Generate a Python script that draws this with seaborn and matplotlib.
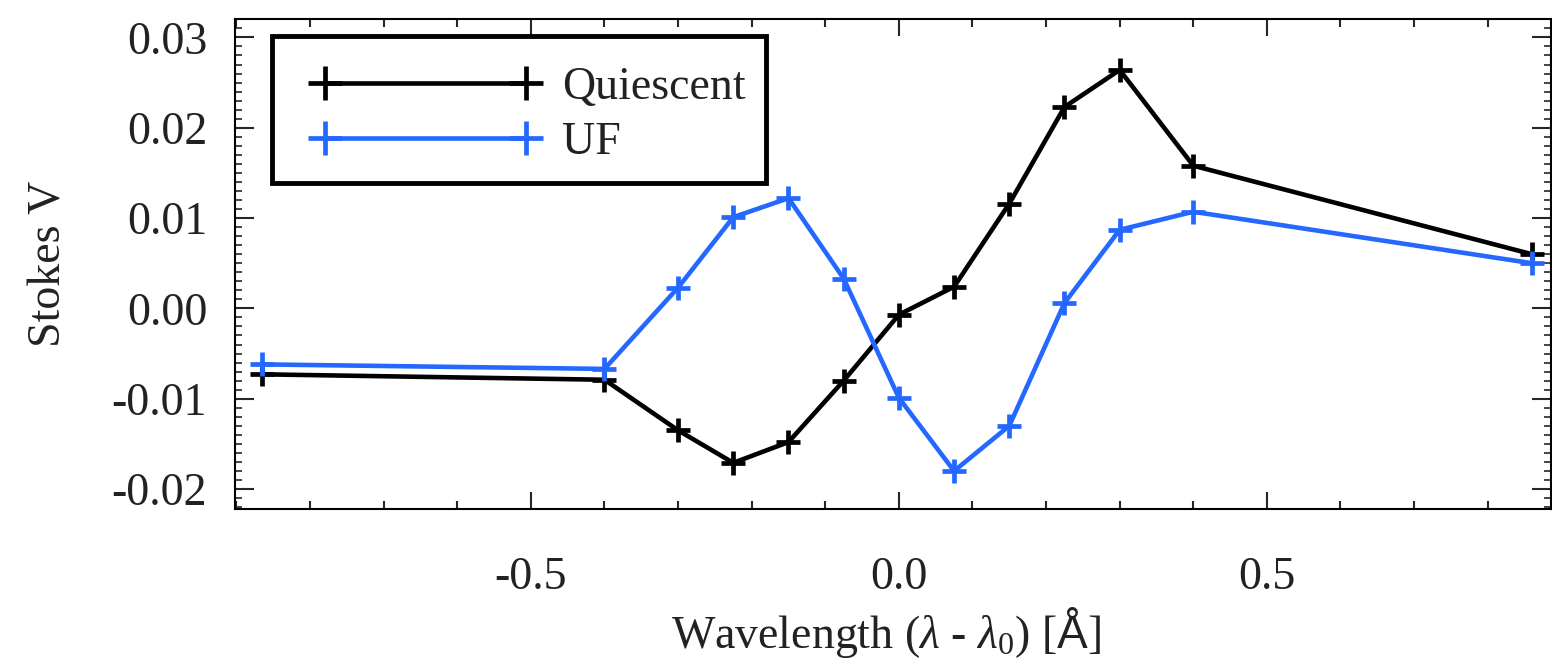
import numpy as np
import pandas as pd
import matplotlib
matplotlib.use("Agg")
import matplotlib.pyplot as plt
import seaborn as sns
from matplotlib.ticker import MultipleLocator
from matplotlib.patches import Rectangle

# ---- data ----
wavelength = [-0.865, -0.4, -0.3, -0.225, -0.15, -0.075, 0.0, 0.075, 0.15, 0.225, 0.3, 0.4, 0.86]
quiescent = [-0.0073, -0.0079, -0.0135, -0.0171, -0.0148, -0.0080, -0.0007, 0.0024,
             0.0116, 0.0223, 0.0264, 0.0158, 0.0060]
uf = [-0.0062, -0.0067, 0.0023, 0.0101, 0.0122, 0.0033, -0.0099, -0.0180,
      -0.0130, 0.0006, 0.0087, 0.0107, 0.0050]
series_names = ["Quiescent", "UF"]
series_colors = ["#000000", "#2468FF"]
x_ticks = [-0.5, 0.0, 0.5]
x_ticklabels = ["-0.5", "0.0", "0.5"]
y_ticks = [-0.02, -0.01, 0.0, 0.01, 0.02, 0.03]
y_ticklabels = ["-0.02", "-0.01", "0.00", "0.01", "0.02", "0.03"]

sns.set_style("ticks")
plt.rcParams["font.family"] = ["Liberation Serif", "DejaVu Serif"]
plt.rcParams["mathtext.fontset"] = "custom"
plt.rcParams["mathtext.rm"] = "Liberation Serif"
plt.rcParams["mathtext.it"] = "Liberation Serif:italic"
plt.rcParams["mathtext.sf"] = "Liberation Sans"

FS = 33
W, H = 1552, 672
fig = plt.figure(figsize=(W / 100, H / 100), dpi=100)
L, R, T, B = 235, 1551, 19, 509
ax = fig.add_axes([L / W, 1 - B / H, (R - L) / W, (B - T) / H])

df = pd.DataFrame({
    "x": wavelength * 2,
    "v": quiescent + uf,
    "series": [series_names[0]] * len(wavelength) + [series_names[1]] * len(wavelength),
})

for name, col in zip(series_names, series_colors):
    sub = df[df["series"] == name]
    sns.lineplot(data=sub, x="x", y="v", ax=ax, color=col, label=name, sort=False,
                 marker="+", markersize=17, markeredgewidth=3.4, linewidth=3.3,
                 markeredgecolor=col, markerfacecolor=col, estimator=None)

ax.set_xlim(-0.902, 0.886)
ax.set_ylim(-0.02221, 0.03204)

ax.set_xticks(x_ticks)
ax.set_xticklabels(x_ticklabels)
ax.set_yticks(y_ticks)
ax.set_yticklabels(y_ticklabels)
ax.xaxis.set_minor_locator(MultipleLocator(0.1))
ax.yaxis.set_minor_locator(MultipleLocator(0.001))

tick_color = "#222222"
ax.tick_params(axis="x", which="major", direction="in", length=12, width=1.5,
               top=True, bottom=True, labelsize=FS, pad=34, labelcolor=tick_color)
ax.tick_params(axis="x", which="minor", direction="in", length=6, width=1.5,
               top=True, bottom=True)
ax.tick_params(axis="y", which="major", direction="in", length=14, width=1.5,
               left=True, right=True, labelsize=FS, pad=20, labelcolor=tick_color)
ax.tick_params(axis="y", which="minor", direction="in", length=5, width=1.2,
               left=True, right=True)

for s in ax.spines.values():
    s.set_visible(True)
    s.set_linewidth(1.5)
    s.set_color("black")

ax.set_xlabel(r"Wavelength ($\lambda$ - $\lambda_0$) [$\mathsf{Å}$]", fontsize=FS, color=tick_color)
ax.xaxis.set_label_coords(0.4947, -0.195)
ax.set_ylabel("Stokes V", fontsize=FS, color=tick_color)
ax.yaxis.set_label_coords(-0.125, 0.5)

# legend box (drawn as a frame rectangle in pixel-derived axes coords)
def px2ax(px, py):
    return (px - L) / (R - L), (B - py) / (B - T)

bx0, by0 = px2ax(272, 183)
bx1, by1 = px2ax(766, 36)
frame = Rectangle((bx0, by0), bx1 - bx0, by1 - by0, transform=ax.transAxes,
                  facecolor="white", edgecolor="black", linewidth=3.5, zorder=4)
ax.add_patch(frame)

ax_anchor = px2ax(286, 41)
leg = ax.legend(loc="upper left", bbox_to_anchor=ax_anchor,
                borderaxespad=0, fontsize=FS, numpoints=2, handlelength=4.98,
                handletextpad=0.5, labelspacing=0.28, borderpad=0.55, markerscale=1.4,
                frameon=False)
leg.set_zorder(5)
for t in leg.get_texts():
    t.set_color(tick_color)

fig.savefig("out.png", dpi=100)
